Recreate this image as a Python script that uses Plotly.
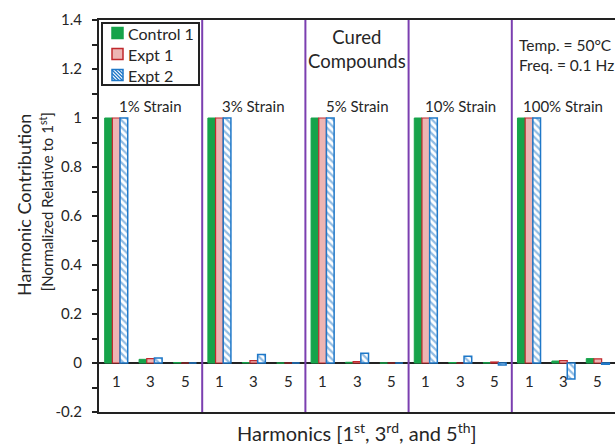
import plotly.graph_objects as go

strains = ["1% Strain", "3% Strain", "5% Strain", "10% Strain", "100% Strain"]
harmonics = ["1", "3", "5"]
series_names = ["Control 1", "Expt 1", "Expt 2"]

control1 = [1, 0.015, 0.002,  1, 0.002, 0.0,  1, 0.003, 0.0,  1, 0.002, 0.001,  1, 0.008, 0.018]
expt1    = [1, 0.018, 0.0,    1, 0.010, 0.0,  1, 0.006, 0.0,  1, 0.000, 0.004,  1, 0.010, 0.017]
expt2    = [1, 0.020, 0.0,    1, 0.035, 0.0,  1, 0.040, 0.0,  1, 0.028, -0.008, 1, -0.065, -0.005]

y_ticks = [1.4, 1.2, 1.0, 0.8, 0.6, 0.4, 0.2, 0.0, -0.2]
y_ticktext = ["1.4", "1.2", "1", "0.8", "0.6", "0.4", "0.2", "0", "-0.2"]

FONT = "Lato, Open Sans, sans-serif"
TXT = "#262626"
GREEN = "#16A34A"
PINK = "#EDB5B3"
RED = "#C0282D"
BLUE = "#1F78C8"

n_h = len(harmonics)
n = len(strains) * n_h
xs = list(range(n))

styles = [
    dict(color=GREEN, line=dict(color=GREEN, width=1)),
    dict(color=PINK, line=dict(color=RED, width=1.2)),
    dict(color="white", line=dict(color=BLUE, width=1.5),
         pattern=dict(shape="\\", fgcolor=BLUE, bgcolor="white", size=5, solidity=0.45)),
]

fig = go.Figure()
for name, vals, st in zip(series_names, [control1, expt1, expt2], styles):
    fig.add_trace(go.Bar(x=xs, y=vals, name=name, marker=st, showlegend=False))

shapes = []
for g in range(1, len(strains)):
    xb = g * n_h - 0.5
    shapes.append(dict(type="line", xref="x", yref="paper", x0=xb, x1=xb, y0=0, y1=1,
                       line=dict(color="#7B3FB0", width=2)))

annotations = []
for g, s in enumerate(strains):
    annotations.append(dict(x=g * n_h + (n_h - 1) / 2, y=1.0, xref="x", yref="y", text=s,
                            showarrow=False, yanchor="bottom", yshift=1,
                            font=dict(family=FONT, size=15, color=TXT)))
    for i, h in enumerate(harmonics):
        annotations.append(dict(x=g * n_h + i, y=-0.074, xref="x", yref="y", text=h,
                                showarrow=False, font=dict(family=FONT, size=15, color=TXT)))

annotations.append(dict(x=2 * n_h + 1, y=1.28, xref="x", yref="y",
                        text="Cured<br>Compounds", showarrow=False,
                        font=dict(family=FONT, size=18.5, color=TXT)))
annotations.append(dict(x=4 * n_h + 1.1, y=1.258, xref="x", yref="y",
                        text="Temp. = 50°C<br>Freq. = 0.1 Hz", showarrow=False,
                        font=dict(family=FONT, size=15.5, color=TXT), align="left"))

# axis titles
annotations.append(dict(x=0, y=0.528, xref="paper", yref="paper", xshift=-75,
                        xanchor="center", yanchor="middle",
                        text="Harmonic Contribution", textangle=-90, showarrow=False,
                        font=dict(family=FONT, size=18, color=TXT)))
annotations.append(dict(x=0, y=0.535, xref="paper", yref="paper", xshift=-53,
                        xanchor="center", yanchor="middle",
                        text="[Normalized Relative to 1<sup>st</sup>]", textangle=-90,
                        showarrow=False, font=dict(family=FONT, size=15, color=TXT)))
annotations.append(dict(x=0.5, y=0, xref="paper", yref="paper", yshift=-20,
                        xanchor="center", yanchor="middle",
                        text="Harmonics [1<sup>st</sup>, 3<sup>rd</sup>, and 5<sup>th</sup>]",
                        showarrow=False, font=dict(family=FONT, size=20, color=TXT)))

# legend drawn as a keyed box in the top-left corner (pixel offsets from plot corner)
shapes.append(dict(type="rect", xref="paper", yref="paper", xsizemode="pixel",
                   ysizemode="pixel", xanchor=0, yanchor=1, x0=3, x1=100, y0=-3, y1=-65,
                   line=dict(color="#222", width=2), fillcolor="white", layer="above"))
row_y = [-13, -34, -55]
sq = 11
for name, st, ry in zip(series_names, styles, row_y):
    x0, x1 = 13, 13 + sq
    y0, y1 = ry - sq / 2, ry + sq / 2
    shapes.append(dict(type="rect", xref="paper", yref="paper", xsizemode="pixel",
                       ysizemode="pixel", xanchor=0, yanchor=1, x0=x0, x1=x1, y0=y0, y1=y1,
                       fillcolor=st["color"], line=dict(color=st["line"]["color"], width=1.5),
                       layer="above"))
    if "pattern" in st:
        segs = []
        step = 3.5
        k = -sq
        while k < sq:
            if k >= 0:
                sx, sy = x0 + k, y1
            else:
                sx, sy = x0, y1 + k
            length = min(x1 - sx, sy - y0)
            if length > 0.5:
                segs.append(f"M{sx:.2f},{sy:.2f} L{sx + length:.2f},{sy - length:.2f}")
            k += step
        shapes.append(dict(type="path", xref="paper", yref="paper", xsizemode="pixel",
                           ysizemode="pixel", xanchor=0, yanchor=1, path=" ".join(segs),
                           line=dict(color=st["pattern"]["fgcolor"], width=1.4),
                           layer="above"))
    annotations.append(dict(x=0, y=1, xref="paper", yref="paper", xshift=27, yshift=ry,
                            xanchor="left", yanchor="middle", text=name, showarrow=False,
                            font=dict(family=FONT, size=16, color=TXT)))

fig.update_layout(
    width=615, height=444,
    margin=dict(l=99, r=0, t=20, b=32),
    paper_bgcolor="white", plot_bgcolor="white",
    barmode="group", bargap=0.33, bargroupgap=0,
    shapes=shapes, annotations=annotations,
    font=dict(family=FONT, color=TXT),
    showlegend=False,
    xaxis=dict(range=[-0.5, n - 0.5], showticklabels=False, ticks="",
               showgrid=False, zeroline=False, showline=True, linecolor="#222",
               linewidth=2, mirror=True),
    yaxis=dict(range=[-0.2, 1.4], tickvals=y_ticks, ticktext=y_ticktext,
               ticks="outside", ticklen=5, tickwidth=1.5, tickcolor="#222",
               ticklabelstandoff=7,
               minor=dict(dtick=0.1, ticks="outside", ticklen=5, tickwidth=1.5,
                          tickcolor="#222", showgrid=False),
               showgrid=False, zeroline=True, zerolinecolor="#222", zerolinewidth=1.5,
               showline=True, linecolor="#222", linewidth=2,
               tickfont=dict(family=FONT, size=15, color=TXT)),
)

fig.write_html("out.html")
